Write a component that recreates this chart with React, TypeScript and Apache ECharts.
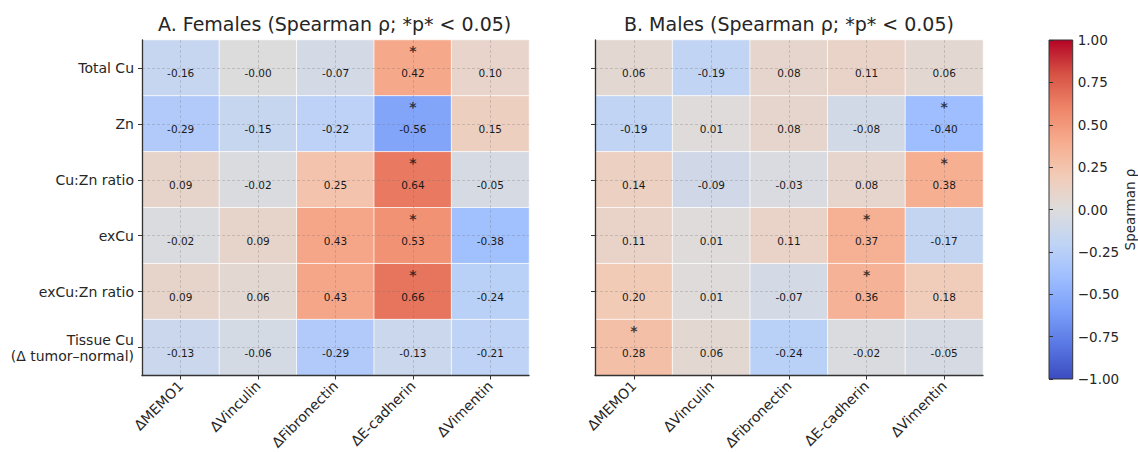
import React, { useEffect, useRef } from "react";
import * as echarts from "echarts";

const markers = ["ΔMEMO1", "ΔVinculin", "ΔFibronectin", "ΔE-cadherin", "ΔVimentin"];
const metals = ["Total Cu", "Zn", "Cu:Zn ratio", "exCu", "exCu:Zn ratio", "Tissue Cu\n(Δ tumor–normal)"];

// rows = metals, cols = markers
const femalesRho = [
  [-0.16, -0.004, -0.07, 0.42, 0.10],
  [-0.29, -0.15, -0.22, -0.56, 0.15],
  [0.09, -0.02, 0.25, 0.64, -0.05],
  [-0.02, 0.09, 0.43, 0.53, -0.38],
  [0.09, 0.06, 0.43, 0.66, -0.24],
  [-0.13, -0.06, -0.29, -0.13, -0.21],
];
const femalesSig = [
  [0, 0, 0, 1, 0],
  [0, 0, 0, 1, 0],
  [0, 0, 0, 1, 0],
  [0, 0, 0, 1, 0],
  [0, 0, 0, 1, 0],
  [0, 0, 0, 0, 0],
];
const malesRho = [
  [0.06, -0.19, 0.08, 0.11, 0.06],
  [-0.19, 0.01, 0.08, -0.08, -0.40],
  [0.14, -0.09, -0.03, 0.08, 0.38],
  [0.11, 0.01, 0.11, 0.37, -0.17],
  [0.20, 0.01, -0.07, 0.36, 0.18],
  [0.28, 0.06, -0.24, -0.02, -0.05],
];
const malesSig = [
  [0, 0, 0, 0, 0],
  [0, 0, 0, 0, 1],
  [0, 0, 0, 0, 1],
  [0, 0, 0, 1, 0],
  [0, 0, 0, 1, 0],
  [1, 0, 0, 0, 0],
];
const colorbarTicks = [-1, -0.75, -0.5, -0.25, 0, 0.25, 0.5, 0.75, 1];

const coolwarm = [
  "#3b4cc0", "#5977e3", "#7b9ff9", "#9ebeff", "#c0d4f5", "#dddcdc",
  "#f2cbb7", "#f7ac8e", "#ee8468", "#d65244", "#b40426",
];

const FONT = "DejaVu Sans";
const TXT = "#262626";

function toHeat(m: number[][]) {
  const out: number[][] = [];
  m.forEach((row, r) => row.forEach((v, c) => out.push([c, r, v])));
  return out;
}
function toSig(m: number[][]) {
  const out: number[][] = [];
  m.forEach((row, r) => row.forEach((v, c) => { if (v) out.push([c, r]); }));
  return out;
}

const gridLineMarks = {
  silent: true,
  symbol: ["none", "none"],
  label: { show: false },
  lineStyle: { type: [3, 2], color: "rgba(110,110,110,0.35)", width: 0.8 },
  emphasis: { disabled: true },
  data: [
    ...markers.map((m) => ({ xAxis: m })),
    ...metals.map((m) => ({ yAxis: m })),
  ],
};

export default function App() {
  const ref = useRef<HTMLDivElement>(null);
  useEffect(() => {
    const chart = echarts.init(ref.current!, null, { renderer: "svg" });
    const catX = (gi: number) => ({
      type: "category",
      gridIndex: gi,
      data: markers,
      z: 10,
      axisLine: { show: true, lineStyle: { color: "#333", width: 1.3 } },
      axisTick: { show: true, alignWithLabel: true, length: 4, lineStyle: { color: "#333" } },
      axisLabel: { rotate: 45, fontSize: 14, fontFamily: FONT, color: TXT, margin: 8 },
      splitLine: { show: false },
    });
    const catY = (gi: number, showLabel: boolean) => ({
      type: "category",
      gridIndex: gi,
      data: metals,
      inverse: true,
      z: 10,
      axisLine: { show: true, lineStyle: { color: "#333", width: 1.3 } },
      axisTick: { show: true, alignWithLabel: true, length: 4, lineStyle: { color: "#333" } },
      axisLabel: { show: showLabel, fontSize: 14, fontFamily: FONT, color: TXT, margin: 8, lineHeight: 16 },
      splitLine: { show: false },
    });
    const heat = (idx: number, data: number[][]) => ({
      type: "heatmap",
      xAxisIndex: idx,
      yAxisIndex: idx,
      data,
      itemStyle: { borderColor: "rgba(255,255,255,0.75)", borderWidth: 1 },
      label: {
        show: true,
        formatter: (p: any) => p.value[2].toFixed(2),
        fontSize: 10.5,
        fontFamily: FONT,
        color: "#1a1a1a",
        offset: [0, 5],
      },
      emphasis: { disabled: true },
      markLine: gridLineMarks,
    });
    const stars = (idx: number, data: number[][]) => ({
      type: "scatter",
      xAxisIndex: idx,
      yAxisIndex: idx,
      data,
      symbolSize: 0,
      silent: true,
      z: 5,
      label: {
        show: true,
        position: "inside",
        formatter: "*",
        fontSize: 14,
        fontWeight: "bold",
        fontFamily: FONT,
        color: "#111",
        offset: [0, -17],
      },
    });

    chart.setOption({
      animation: false,
      backgroundColor: "#fff",
      title: [
        {
          text: "A. Females (Spearman ρ; *p* < 0.05)",
          left: 158,
          top: 14,
          padding: 0,
          textStyle: { fontSize: 19, fontWeight: "normal", fontFamily: FONT, color: TXT },
        },
        {
          text: "B. Males (Spearman ρ; *p* < 0.05)",
          left: 624,
          top: 14,
          padding: 0,
          textStyle: { fontSize: 19, fontWeight: "normal", fontFamily: FONT, color: TXT },
        },
      ],
      grid: [
        { left: 142, top: 40, width: 387, height: 339 },
        { left: 595, top: 40, width: 388, height: 339 },
        {
          left: 1049,
          top: 40,
          width: 24,
          height: 339,
          show: true,
          borderColor: "#333",
          borderWidth: 1,
          backgroundColor: {
            type: "linear",
            x: 0, y: 1, x2: 0, y2: 0,
            colorStops: coolwarm.map((c, i) => ({ offset: i / (coolwarm.length - 1), color: c })),
          },
        },
      ],
      xAxis: [
        catX(0),
        catX(1),
        { type: "value", gridIndex: 2, min: 0, max: 1, show: false },
      ],
      yAxis: [
        catY(0, true),
        catY(1, false),
        {
          type: "value",
          gridIndex: 2,
          min: colorbarTicks[0],
          max: colorbarTicks[colorbarTicks.length - 1],
          interval: 0.25,
          position: "right",
          axisLine: { show: false },
          axisTick: { show: true, length: 4, lineStyle: { color: "#333" } },
          splitLine: { show: false },
          axisLabel: {
            fontSize: 13.5,
            fontFamily: FONT,
            color: TXT,
            margin: 5,
            formatter: (v: number) => (v < 0 ? "−" : "") + Math.abs(v).toFixed(2),
          },
          name: "Spearman ρ",
          nameLocation: "middle",
          nameRotate: 90,
          nameGap: 46,
          nameTextStyle: { fontSize: 13.5, fontFamily: FONT, color: TXT },
        },
      ],
      visualMap: {
        show: false,
        type: "continuous",
        min: -1,
        max: 1,
        dimension: 2,
        seriesIndex: [0, 2],
        inRange: { color: coolwarm },
      },
      series: [
        heat(0, toHeat(femalesRho)),
        stars(0, toSig(femalesSig)),
        heat(1, toHeat(malesRho)),
        stars(1, toSig(malesSig)),
      ],
    });
    return () => chart.dispose();
  }, []);
  return (
    <div
      ref={ref}
      style={{ position: "fixed", left: 0, top: 0, width: 1138, height: 452 }}
    />
  );
}
